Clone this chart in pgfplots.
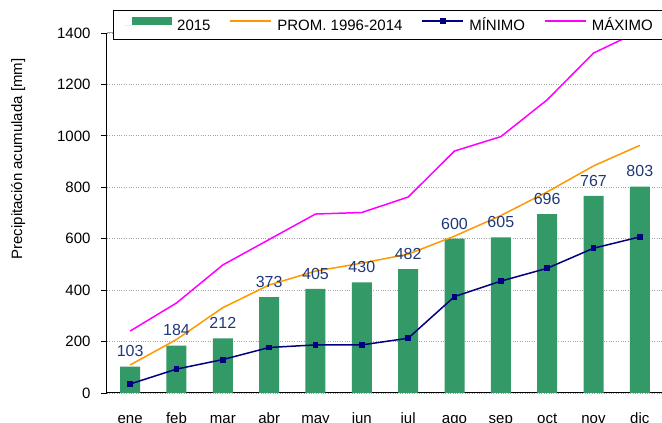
\documentclass[border=0pt]{standalone}
\usepackage{pgfplots}
\pgfplotsset{compat=1.18}
\usepackage{fontspec}
\setmainfont{Liberation Sans}
\definecolor{barg}{RGB}{51,153,102}
\definecolor{promc}{RGB}{255,153,0}
\definecolor{minc}{RGB}{0,0,128}
\definecolor{maxc}{RGB}{255,0,255}
\definecolor{labc}{RGB}{31,56,120}
\definecolor{gridc}{RGB}{165,165,165}
\begin{document}
\begin{tikzpicture}
\useasboundingbox (-107pt,-30pt) rectangle (555pt,393pt);
\clip (-107pt,-30pt) rectangle (555pt,393pt);
\begin{axis}[
  scale only axis, width=556pt, height=360pt,
  xmin=-0.5, xmax=11.5, ymin=0, ymax=1400,
  axis x line*=bottom, axis y line*=left,
  axis line style={black, line width=1pt},
  xtick={0,...,11},
  xticklabels={ene,feb,mar,abr,may,jun,jul,ago,sep,oct,nov,dic},
  minor xtick={-0.5,0.5,...,11.5},
  xtick style={draw=none},
  minor tick length=5pt,
  major tick length=6pt,
  tick align=outside,
  ytick={0,200,...,1400},
  ymajorgrids, grid style={gridc, dotted, line width=0.8pt},
  tick style={black, line width=0.8pt},
  font=\fontsize{15}{18}\selectfont,
  /pgf/number format/.cd, 1000 sep={}, assume math mode=true, /pgfplots/.cd,
  xticklabel style={anchor=base, yshift=-25pt},
  yticklabel style={anchor=east, xshift=-7pt},
  ylabel={Precipitación acumulada [mm]},
  ylabel style={at={(axis description cs:-0.16,0.65)}, anchor=center},
  legend columns=4,
  legend style={at={(axis description cs:0.0103,1.0639)}, anchor=north west,
    fill=white, inner xsep=12pt, inner ysep=7pt,
    font=\fontsize{15}{18}\selectfont,
    nodes={inner sep=0pt, text height=11pt, text depth=2pt},
    /tikz/every odd column/.style={column sep=5.3pt},
    /tikz/every even column/.style={column sep=19pt}},
  legend cell align=left,
  legend image code/.code={\draw[#1, line width=1.5pt] (0pt,4.5pt) -- (41pt,4.5pt);},
]
\draw[gridc, line width=1pt] (rel axis cs:0,1) -- (rel axis cs:1,1);
\addplot[ybar, bar width=20pt, fill=barg, draw=none,
  legend image code/.code={\path (0pt,0pt) -- (7pt,0pt); \fill[fill=barg] (7pt,0.5pt) rectangle (47pt,8.5pt);},
  nodes near coords,
  every node near coord/.append style={labc, font=\fontsize{16}{18}\selectfont, anchor=south, yshift=6pt}]
  coordinates {(0,103) (1,184) (2,212) (3,373) (4,405) (5,430) (6,482) (7,600) (8,605) (9,696) (10,767) (11,803)};
\addlegendentry{2015}
\addplot[color=promc, line width=1.5pt]
  coordinates {(0,109) (1,208) (2,332) (3,420) (4,474) (5,505) (6,540) (7,610) (8,690) (9,782) (10,883) (11,963)};
\addlegendentry{PROM. 1996-2014}
\addplot[color=minc, line width=1.5pt, mark=square*, mark size=2.2pt,
  legend image code/.code={\draw[color=minc, line width=1.5pt] (0pt,4.5pt) -- (41pt,4.5pt); \fill[color=minc] (18.3pt,2.3pt) rectangle (22.7pt,6.7pt);}]
  coordinates {(0,35) (1,93) (2,130) (3,177) (4,187) (5,187) (6,213) (7,375) (8,435) (9,485) (10,563) (11,607)};
\addlegendentry{MÍNIMO}
\addplot[color=maxc, line width=1.5pt]
  coordinates {(0,241) (1,350) (2,498) (3,597) (4,696) (5,702) (6,762) (7,941) (8,997) (9,1140) (10,1322) (11,1408)};
\addlegendentry{MÁXIMO}
\end{axis}
\end{tikzpicture}
\end{document}
